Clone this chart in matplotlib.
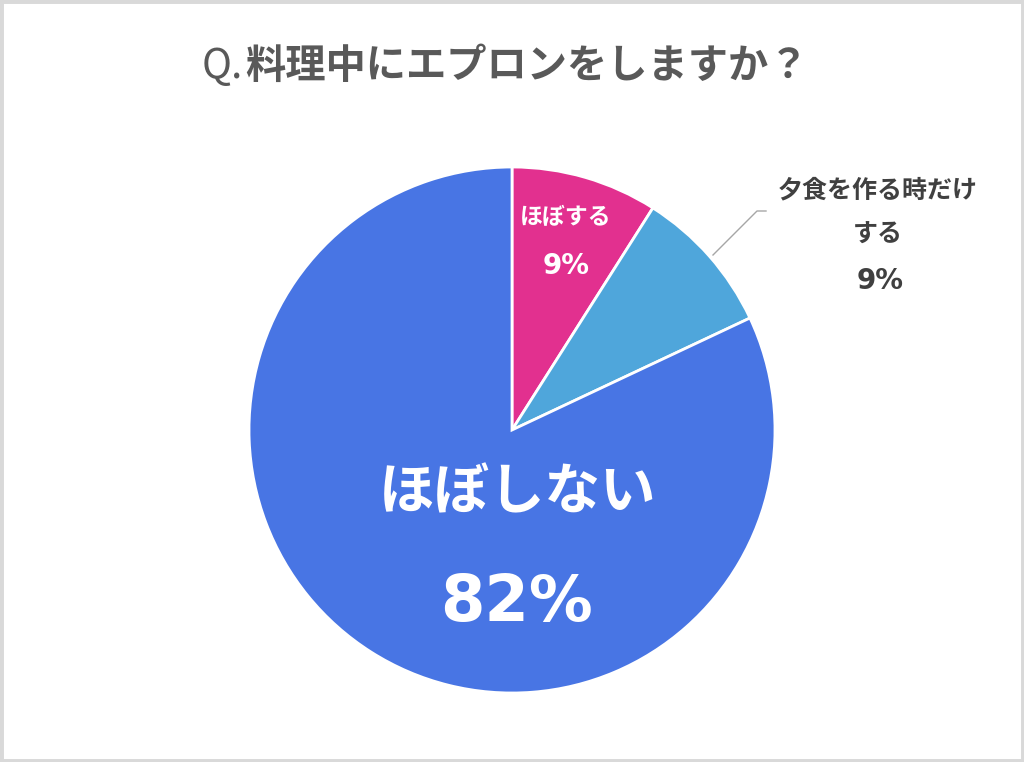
import matplotlib
matplotlib.use("Agg")
import matplotlib.pyplot as plt
from matplotlib.patches import Rectangle

plt.rcParams['font.family'] = ['Noto Sans CJK JP', 'DejaVu Sans']

title_q = "Q."
title_main = "料理中にエプロンをしますか？"
labels = ["ほぼする", "夕食を作る時だけ\nする", "ほぼしない"]
values = [9, 9, 82]
colors = ["#E2308F", "#4FA6DB", "#4875E4"]

W, H = 1024, 762
fig = plt.figure(figsize=(W / 100, H / 100), dpi=100)
ax = fig.add_axes([0, 0, 1, 1])
ax.set_xlim(0, W)
ax.set_ylim(0, H)
ax.set_aspect('equal')
ax.axis('off')

# border
fig.patches.append(Rectangle((0, 0), 1, 1, transform=fig.transFigure,
                             fill=False, edgecolor="#D9D9D9", linewidth=5))

cx, cy, r = 512, H - 430, 263
wedges, _ = ax.pie(values, colors=colors, startangle=90, counterclock=False,
                   center=(cx, cy), radius=r, frame=True,
                   wedgeprops=dict(edgecolor="white", linewidth=2))
ax.set_xlim(0, W)
ax.set_ylim(0, H)
ax.axis('off')

pct_font = ['DejaVu Sans']

# title
ax.text(243, H - 66, title_q, ha='right', va='center', fontsize=29,
        color="#595959", fontweight='normal')
ax.text(245, H - 66, title_main, ha='left', va='center', fontsize=29,
        color="#595959", fontweight='bold')

# inside labels
ax.text(566, H - 218, labels[0], ha='center', va='center', fontsize=16.5,
        color='white', fontweight='bold')
ax.text(566, H - 266, f"{values[0]}%", ha='center', va='center', fontsize=20,
        color='white', fontweight='bold', family=pct_font)

ax.text(518, H - 493, labels[2], ha='center', va='center', fontsize=40,
        color='white', fontweight='bold')
ax.text(517, H - 603, f"{values[2]}%", ha='center', va='center', fontsize=46,
        color='white', fontweight='bold', family=pct_font)

# outside label with leader line
ax.plot([713, 757, 766], [H - 255, H - 211, H - 211], color="#A6A6A6", lw=1)
ax.text(878, H - 190, labels[1].split("\n")[0], ha='center', va='center',
        fontsize=18, color="#404040", fontweight='bold')
ax.text(878, H - 235, labels[1].split("\n")[1], ha='center', va='center',
        fontsize=18, color="#404040", fontweight='bold')
ax.text(880, H - 281, f"{values[1]}%", ha='center', va='center',
        fontsize=20, color="#404040", fontweight='bold', family=pct_font)

fig.savefig("out.png", dpi=100)
